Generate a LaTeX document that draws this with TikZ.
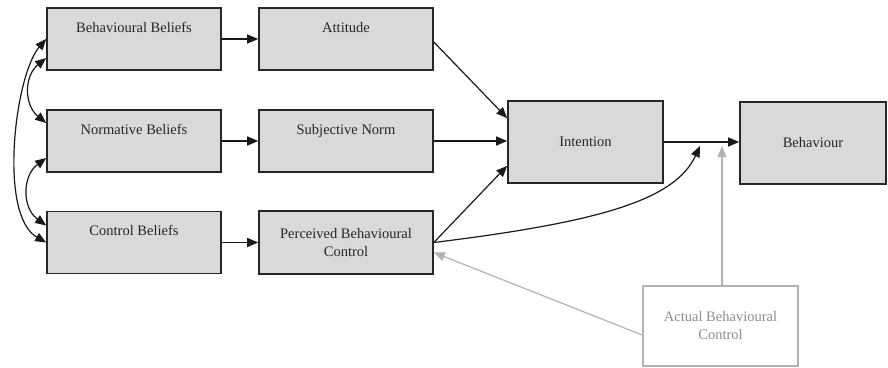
\documentclass[tikz,border=0pt]{standalone}
\usepackage{fontspec}
\setmainfont{Liberation Serif}
\usetikzlibrary{arrows.meta}

\begin{document}
\begin{tikzpicture}[x=1pt,y=-1pt,
    box/.style={draw=black!85, line width=1.6pt, fill=gray!30, text=black!85,
        align=center, font=\fontsize{14.5}{18}\selectfont, inner sep=4pt},
    topbox/.style={box, minimum width=174pt, text height=20pt, text depth=34pt},
    bigbox/.style={box, minimum height=82pt},
    arr/.style={-{Triangle[length=11pt,width=9pt]}, line width=1.2pt, black!90},
    dbl/.style={{Triangle[length=11pt,width=9pt]}-{Triangle[length=11pt,width=9pt]}, line width=1.2pt, black!90},
    grayarr/.style={-{Triangle[length=11pt,width=9pt]}, line width=1.2pt, gray!60}]
    \useasboundingbox (0,0) rectangle (888,367);

    \node[topbox] (bb) at (134,39) {Behavioural Beliefs};
    \node[topbox] (att) at (346,39) {Attitude};
    \node[topbox] (nb) at (134,141) {Normative Beliefs};
    \node[topbox] (sn) at (346,141) {Subjective Norm};
    \node[topbox] (cb) at (134,242.5) {Control Beliefs};
    \node[box, minimum width=174pt, minimum height=63pt] (pbc) at (346,242.5) {Perceived Behavioural\\Control};
    \node[bigbox, minimum width=155pt] (int) at (585.5,142) {Intention};
    \node[bigbox, minimum width=146pt] (beh) at (813,143) {Behaviour};
    \node[box, draw=gray!60, fill=white, text=gray!90, minimum width=155pt, minimum height=80pt] (abc) at (720.5,326) {Actual Behavioural\\Control};

    \coordinate (pbcend) at (700,146);
    \coordinate (abcend) at (722,146);

    \path (bb) edge[arr] (att);
    \path (nb) edge[arr] (sn);
    \path (cb) edge[arr] (pbc);
    \path ([yshift=-3pt]att.east) edge[arr] ([yshift=-18pt]int.north west);
    \path (sn.east) edge[arr] (int.west |- sn.east);
    \path (pbc.east) edge[arr] ([yshift=18pt]int.south west);
    \path (int.east) edge[arr] (beh.west |- int.east);
    \draw[arr] (pbc.east) .. controls (600,222) and (675,200) .. (pbcend);
    \draw[grayarr] (abc.north -| abcend) -- (abcend);
    \draw[grayarr] ([yshift=-9pt]abc.west) -- ([yshift=-10pt]pbc.east);

    % belief correlations
    \draw[dbl] ([yshift=-19pt]bb.west) .. controls (24,76) and (24,105) .. ([yshift=18pt]nb.west);
    \draw[dbl] ([yshift=-17pt]nb.west) .. controls (22,176) and (22,208) .. ([yshift=17pt]cb.west);
    \draw[dbl] (bb.west) .. controls (15,75) and (-2,215) .. (cb.west);
\end{tikzpicture}
\end{document}
